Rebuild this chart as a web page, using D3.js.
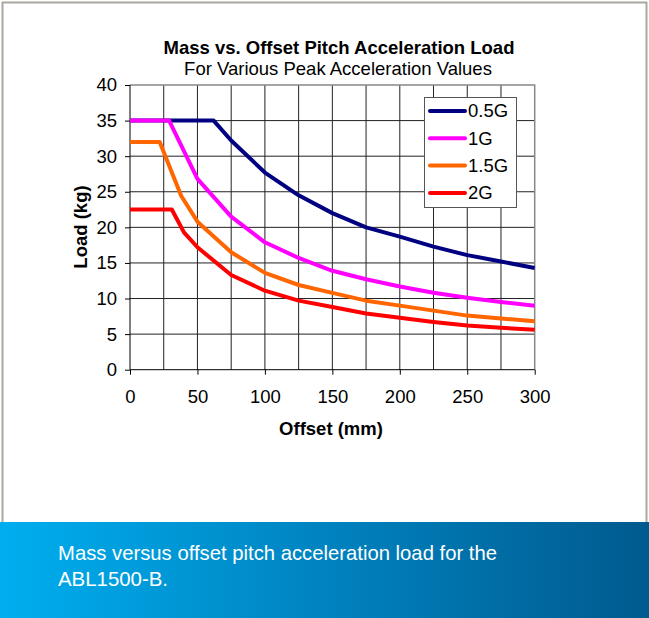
<!DOCTYPE html>
<meta charset="utf-8">
<style>
body { margin: 0; background: #fff; }
text { font-family: Arial, "Liberation Sans", sans-serif; fill: #000; }
.tick text { font-size: 18.5px; }
</style>
<body>
<script src="https://d3js.org/d3.v7.min.js"></script>
<script>

// offsets (mm) and loads (kg)
var off05 = [0, 62, 75, 100, 125, 150, 175, 200, 225, 250, 275, 300];
var load05 = [35, 35, 32.2, 27.7, 24.5, 22.0, 20.0, 18.7, 17.3, 16.1, 15.2, 14.3];
var off1 = [0, 29, 50, 75, 100, 125, 150, 175, 200, 225, 250, 275, 300];
var load1 = [35, 35, 26.8, 21.5, 17.9, 15.7, 13.9, 12.7, 11.7, 10.8, 10.1, 9.5, 9.0];
var off15 = [0, 22, 38, 50, 75, 100, 125, 150, 175, 200, 225, 250, 275, 300];
var load15 = [32, 32, 24.4, 20.8, 16.5, 13.6, 11.9, 10.8, 9.7, 9.0, 8.3, 7.6, 7.2, 6.8];
var off2 = [0, 31, 40, 50, 75, 100, 125, 150, 175, 200, 225, 250, 275, 300];
var load2 = [22.5, 22.5, 19.3, 17.2, 13.3, 11.1, 9.7, 8.8, 7.9, 7.3, 6.7, 6.2, 5.9, 5.6];

var seriesNames = ["0.5G", "1G", "1.5G", "2G"];
var seriesColors = ["#000080", "#ff00ff", "#ff6600", "#ff0000"];
var xTicks = [0, 50, 100, 150, 200, 250, 300];
var yTicks = [0, 5, 10, 15, 20, 25, 30, 35, 40];

var width = 649,
    height = 618;

var series = [
  {name: seriesNames[0], color: seriesColors[0], x: off05, y: load05},
  {name: seriesNames[1], color: seriesColors[1], x: off1, y: load1},
  {name: seriesNames[2], color: seriesColors[2], x: off15, y: load15},
  {name: seriesNames[3], color: seriesColors[3], x: off2, y: load2}
];

var svg = d3.select("body").append("svg")
    .attr("width", width)
    .attr("height", height);

// outer frame
svg.append("rect")
    .attr("x", 2.5).attr("y", 2.5)
    .attr("width", 644).attr("height", 540)
    .attr("fill", "#fff")
    .attr("stroke", "#aca79f")
    .attr("stroke-width", 2);

// caption band
var grad = svg.append("defs").append("linearGradient")
    .attr("id", "band").attr("x1", 0).attr("x2", 1).attr("y1", 0).attr("y2", 0);
grad.append("stop").attr("offset", 0).attr("stop-color", "#00aeef");
grad.append("stop").attr("offset", 0.5).attr("stop-color", "#0083c0");
grad.append("stop").attr("offset", 1).attr("stop-color", "#005a8e");

svg.append("rect")
    .attr("x", 0).attr("y", 522)
    .attr("width", width).attr("height", height - 522)
    .attr("fill", "url(#band)");

svg.append("text")
    .attr("x", 58).attr("y", 560)
    .attr("textLength", 439).attr("lengthAdjust", "spacingAndGlyphs")
    .style("font-size", "21px").style("fill", "#fff")
    .text("Mass versus offset pitch acceleration load for the");
svg.append("text")
    .attr("x", 58).attr("y", 586)
    .attr("textLength", 110).attr("lengthAdjust", "spacingAndGlyphs")
    .style("font-size", "21px").style("fill", "#fff")
    .text("ABL1500-B.");

// plot
var x = d3.scaleLinear().domain([0, 300]).range([130, 534.7]);
var y = d3.scaleLinear().domain([0, 40]).range([369.7, 85]);

var g = svg.append("g");

// grid
g.selectAll(".vgrid")
    .data(d3.range(25, 300, 25))
  .enter().append("line")
    .attr("x1", function(d) { return x(d); })
    .attr("x2", function(d) { return x(d); })
    .attr("y1", y(0)).attr("y2", y(40))
    .attr("stroke", "#222").attr("stroke-width", 1);
g.selectAll(".hgrid")
    .data(yTicks.slice(1, -1))
  .enter().append("line")
    .attr("x1", x(0)).attr("x2", x(300))
    .attr("y1", function(d) { return y(d); })
    .attr("y2", function(d) { return y(d); })
    .attr("stroke", "#222").attr("stroke-width", 1);

// plot border top/right
g.append("path")
    .attr("d", "M" + x(0) + "," + y(40) + "H" + x(300) + "V" + y(0))
    .attr("fill", "none").attr("stroke", "#888").attr("stroke-width", 1.5);

var xAxis = g.append("g")
    .attr("transform", "translate(0," + y(0) + ")")
    .call(d3.axisBottom(x).tickValues(xTicks).tickSize(5));
var yAxis = g.append("g")
    .attr("transform", "translate(" + x(0) + ",0)")
    .call(d3.axisLeft(y).tickValues(yTicks).tickSize(5).tickPadding(8));

xAxis.selectAll("path, line").attr("stroke", "#000");
yAxis.selectAll("path, line").attr("stroke", "#000");
xAxis.select(".domain").attr("d", "M" + x(0) + ",0H" + x(300));
yAxis.select(".domain").attr("d", "M0," + y(0) + "V" + y(40));
xAxis.selectAll(".tick text").attr("font-family", null).style("fill", "#000")
    .attr("y", 33.3).attr("dy", 0);
yAxis.selectAll(".tick text").attr("font-family", null).style("fill", "#000");

// lines
var line = d3.line()
    .x(function(d) { return x(d[0]); })
    .y(function(d) { return y(d[1]); });

g.selectAll(".series")
    .data(series)
  .enter().append("path")
    .attr("d", function(s) { return line(d3.zip(s.x, s.y)); })
    .attr("fill", "none")
    .attr("stroke", function(s) { return s.color; })
    .attr("stroke-width", 4)
    .attr("stroke-linejoin", "round");

// titles
svg.append("text")
    .attr("x", 339).attr("y", 54)
    .attr("text-anchor", "middle")
    .style("font-size", "18.5px").style("font-weight", "bold")
    .text("Mass vs. Offset Pitch Acceleration Load");
svg.append("text")
    .attr("x", 338).attr("y", 74.5)
    .attr("text-anchor", "middle")
    .style("font-size", "18.5px")
    .text("For Various Peak Acceleration Values");
svg.append("text")
    .attr("x", 331).attr("y", 434.5)
    .attr("text-anchor", "middle")
    .style("font-size", "18.5px").style("font-weight", "bold")
    .text("Offset (mm)");
svg.append("text")
    .attr("transform", "translate(86.5,227) rotate(-90)")
    .attr("text-anchor", "middle")
    .style("font-size", "18.5px").style("font-weight", "bold")
    .text("Load (kg)");

// legend
var legend = svg.append("g");
legend.append("rect")
    .attr("x", 424.5).attr("y", 97.5)
    .attr("width", 92).attr("height", 110)
    .attr("fill", "#fff").attr("stroke", "#555");
var item = legend.selectAll(".item")
    .data(series)
  .enter().append("g")
    .attr("transform", function(d, i) { return "translate(0," + (111 + i * 27.3) + ")"; });
item.append("line")
    .attr("x1", 430).attr("x2", 465)
    .attr("stroke", function(d) { return d.color; })
    .attr("stroke-width", 4).attr("stroke-linecap", "round");
item.append("text")
    .attr("x", 468).attr("dy", "0.35em")
    .style("font-size", "18.5px")
    .text(function(d) { return d.name; });

</script>
